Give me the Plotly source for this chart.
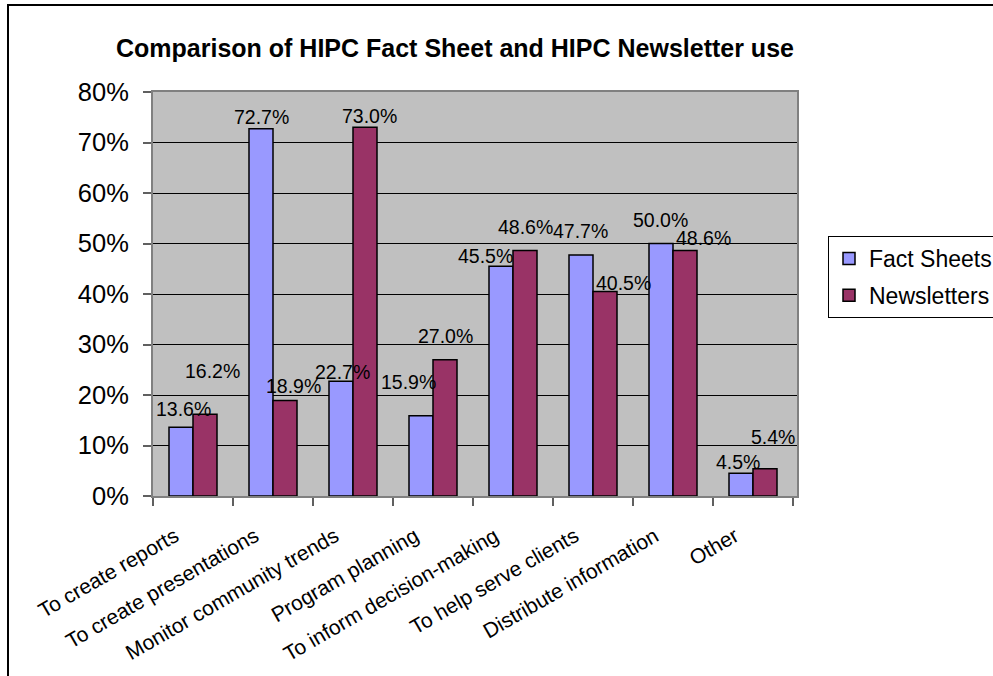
import plotly.graph_objects as go

categories = ["To create reports", "To create presentations", "Monitor community trends",
              "Program planning", "To inform decision-making", "To help serve clients",
              "Distribute information", "Other"]
fact_sheets = [13.6, 72.7, 22.7, 15.9, 45.5, 47.7, 50.0, 4.5]
newsletters = [16.2, 18.9, 73.0, 27.0, 48.6, 40.5, 48.6, 5.4]
y_ticks = [0, 10, 20, 30, 40, 50, 60, 70, 80]

# label offsets (pixels) reproducing the reference's label placement
fs_xshift = [2, 0, 1, -13, -16, -1, -1, -3]
fs_yshift = [18, 12, 9, 34, 10, 24, 24, 11]
nl_xshift = [7, 8, 4, 0, 0, 18, 18, 8]
nl_yshift = [43, 15, 11, 24, 24, 8, 13, 32]

FONT = "Liberation Sans, Arial, sans-serif"
W, H = 993, 676
L, R, T, B = 153, 797, 92, 496

fig = go.Figure()
fig.add_trace(go.Bar(x=categories, y=fact_sheets, name="Fact Sheets",
                     marker=dict(color="#9999FF", line=dict(color="black", width=1.5)),
                     legendgroup="a"))
fig.add_trace(go.Bar(x=categories, y=newsletters, name="Newsletters",
                     marker=dict(color="#993366", line=dict(color="black", width=1.5)),
                     legendgroup="b"))

bar_off = 12
for i, c in enumerate(categories):
    fig.add_annotation(x=c, y=fact_sheets[i], text=f"{fact_sheets[i]:.1f}%", showarrow=False,
                       xshift=-bar_off + fs_xshift[i], yshift=fs_yshift[i], yanchor="middle",
                       font=dict(family=FONT, size=19.5, color="black"))
    fig.add_annotation(x=c, y=newsletters[i], text=f"{newsletters[i]:.1f}%", showarrow=False,
                       xshift=bar_off + nl_xshift[i], yshift=nl_yshift[i], yanchor="middle",
                       font=dict(family=FONT, size=19.5, color="black"))

pw, ph = R - L, B - T
def px(x): return (x - L) / pw
def py(y): return (B - y) / ph

# outer chart border
fig.add_shape(type="rect", xref="paper", yref="paper",
              x0=px(8), x1=px(1010), y0=py(700), y1=py(5),
              line=dict(color="black", width=2), fillcolor="rgba(0,0,0,0)", layer="below")

fig.update_layout(
    width=W, height=H,
    margin=dict(l=L, r=W - R, t=T, b=H - B, pad=0, autoexpand=False),
    paper_bgcolor="white", plot_bgcolor="#C0C0C0",
    barmode="group", bargap=0.4, bargroupgap=0,
    font=dict(family=FONT, color="black"),
    title=dict(text="<b>Comparison of HIPC Fact Sheet and HIPC Newsletter use</b>",
               x=px(455), xref="paper", xanchor="center",
               y=1 - 48 / H, yref="container", yanchor="middle",
               font=dict(family=FONT, size=25, color="black")),
    legend=dict(x=px(828), y=py(236), xanchor="left", yanchor="top",
                bordercolor="black", borderwidth=1, bgcolor="white",
                font=dict(family=FONT, size=23, color="black"),
                tracegroupgap=4, itemwidth=30),
    showlegend=True,
)
fig.update_xaxes(type="category", tickangle=-30, tickson="boundaries",
                 ticks="outside", ticklen=8, tickcolor="#606060", tickwidth=1.5,
                 showline=True, linecolor="#808080", linewidth=2, mirror=True,
                 showgrid=False, ticklabelshift=-18, ticklabelstandoff=18, automargin=False,
                 tickfont=dict(family=FONT, size=21, color="black"))
fig.update_yaxes(range=[0, 80], tickvals=y_ticks, ticktext=[f"{v}%" for v in y_ticks],
                 ticks="outside", ticklen=8, tickcolor="#606060", tickwidth=1.5,
                 showline=True, linecolor="#808080", linewidth=2, mirror=True,
                 showgrid=True, gridcolor="black", gridwidth=1, zeroline=False,
                 ticklabelstandoff=9, automargin=False,
                 tickfont=dict(family=FONT, size=25.5, color="black"))

fig.write_html("out.html", config={"responsive": False, "displayModeBar": False},
               post_script="document.body.style.margin='0px';document.body.style.overflow='hidden';")
